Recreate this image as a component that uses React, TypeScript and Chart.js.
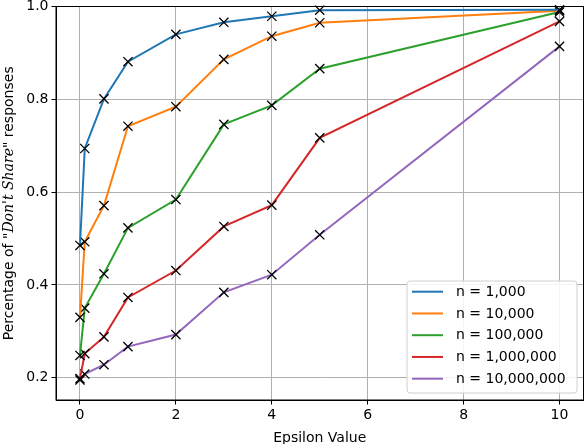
import React, { useEffect, useRef } from "react";
import { Chart, registerables } from "chart.js";

Chart.register(...registerables);

const epsilons = [0, 0.1, 0.5, 1, 2, 3, 4, 5, 10];
const seriesLabels = ["n = 1,000", "n = 10,000", "n = 100,000", "n = 1,000,000", "n = 10,000,000"];
const n1k = [0.485, 0.694, 0.801, 0.881, 0.94, 0.966, 0.979, 0.992, 0.993];
const n10k = [0.33, 0.493, 0.571, 0.742, 0.784, 0.886, 0.936, 0.965, 0.991];
const n100k = [0.248, 0.35, 0.424, 0.523, 0.584, 0.746, 0.787, 0.866, 0.988];
const n1m = [0.198, 0.252, 0.288, 0.373, 0.431, 0.526, 0.572, 0.717, 0.968];
const n10m = [0.195, 0.208, 0.228, 0.267, 0.293, 0.384, 0.422, 0.508, 0.914];
const colors = ["#1f77b4", "#ff7f0e", "#2ca02c", "#d62728", "#9467bd"];
const xTicks = [0, 2, 4, 6, 8, 10];
const yTicks = [0.2, 0.4, 0.6, 0.8, 1.0];

const FONT = "'DejaVu Sans', sans-serif";
const FS = 14;

const framePlugin = {
  id: "frame",
  afterDraw(chart: any) {
    const { ctx, chartArea: a } = chart;
    ctx.save();
    ctx.strokeStyle = "#000";
    ctx.lineWidth = 1;
    ctx.strokeRect(a.left, a.top, a.right - a.left, a.bottom - a.top);

    // x title
    ctx.fillStyle = "#000";
    ctx.font = `${FS}px ${FONT}`;
    ctx.textAlign = "center";
    ctx.textBaseline = "alphabetic";
    ctx.fillText("Epsilon Value", (a.left + a.right) / 2, 441.5);

    // y title with mixed fonts
    const parts = [
      { t: 'Percentage of "', f: `${FS}px ${FONT}` },
      { t: "Don't Share", f: `italic ${FS}px 'DejaVu Serif', serif` },
      { t: '" responses', f: `${FS}px ${FONT}` },
    ];
    let total = 0;
    const widths = parts.map((p) => {
      ctx.font = p.f;
      const w = ctx.measureText(p.t).width;
      total += w;
      return w;
    });
    ctx.translate(12.5, (a.top + a.bottom) / 2);
    ctx.rotate(-Math.PI / 2);
    ctx.textAlign = "left";
    let x = -total / 2;
    parts.forEach((p, i) => {
      ctx.font = p.f;
      ctx.fillText(p.t, x, 0);
      x += widths[i];
    });
    ctx.restore();

    // legend
    ctx.save();
    const lx = 407, ly = 281, lw = 170, lh = 112;
    ctx.beginPath();
    (ctx as any).roundRect(lx, ly, lw, lh, 3);
    ctx.fillStyle = "rgba(255,255,255,0.85)";
    ctx.fill();
    ctx.strokeStyle = "#d0d0d0";
    ctx.lineWidth = 1;
    ctx.stroke();
    ctx.font = `${FS}px ${FONT}`;
    ctx.textBaseline = "middle";
    ctx.textAlign = "left";
    seriesLabels.forEach((lab, i) => {
      const y = 291.7 + i * 21.75;
      ctx.strokeStyle = colors[i];
      ctx.lineWidth = 2;
      ctx.beginPath();
      ctx.moveTo(412, y);
      ctx.lineTo(443, y);
      ctx.stroke();
      ctx.fillStyle = "#000";
      ctx.fillText(lab, 456, y + 0.5);
    });
    ctx.restore();
  },
};

export default function App() {
  const ref = useRef<HTMLCanvasElement>(null);
  useEffect(() => {
    document.body.style.margin = "0";
    const all = [n1k, n10k, n100k, n1m, n10m];
    const chart = new Chart(ref.current!, {
      type: "line",
      data: {
        datasets: all.map((vals, i) => ({
          label: seriesLabels[i],
          data: vals.map((v, j) => ({ x: epsilons[j], y: v })),
          borderColor: colors[i],
          backgroundColor: colors[i],
          borderWidth: 2,
          pointStyle: "crossRot",
          pointRadius: 6.5,
          pointBorderColor: "#000",
          pointBorderWidth: 1.3,
          tension: 0,
          fill: false,
          clip: false as any,
        })),
      },
      options: {
        animation: false,
        responsive: false,
        maintainAspectRatio: false,
        layout: { autoPadding: false, padding: { top: 6.5, right: 2.5, left: 0, bottom: 0 } },
        plugins: { legend: { display: false }, tooltip: { enabled: false } },
        scales: {
          x: {
            type: "linear",
            min: -0.5,
            max: 10.5,
            afterBuildTicks: (s: any) => {
              s.ticks = xTicks.map((v) => ({ value: v }));
            },
            afterFit: (s: any) => {
              s.height = 44;
              s.paddingLeft = 0;
              s.paddingRight = 0;
            },
            grid: { color: "#b0b0b0", lineWidth: 1, tickLength: 4.5, tickColor: "#000", drawTicks: true },
            border: { color: "#000" },
            ticks: { color: "#000", font: { family: FONT, size: FS }, padding: 2, maxRotation: 0 },
          },
          y: {
            type: "linear",
            min: 0.152,
            max: 1.0,
            afterBuildTicks: (s: any) => {
              s.ticks = yTicks.map((v) => ({ value: v }));
            },
            afterFit: (s: any) => {
              s.width = 56;
              s.paddingTop = 0;
              s.paddingBottom = 0;
            },
            grid: { color: "#b0b0b0", lineWidth: 1, tickLength: 4.5, tickColor: "#000", drawTicks: true },
            border: { color: "#000" },
            ticks: {
              color: "#000",
              font: { family: FONT, size: FS },
              padding: 3,
              callback: (v: any) => Number(v).toFixed(1),
            },
          },
        },
      },
      plugins: [framePlugin],
    });
    return () => chart.destroy();
  }, []);
  return <canvas ref={ref} width={586} height={444} style={{ display: "block" }} />;
}
